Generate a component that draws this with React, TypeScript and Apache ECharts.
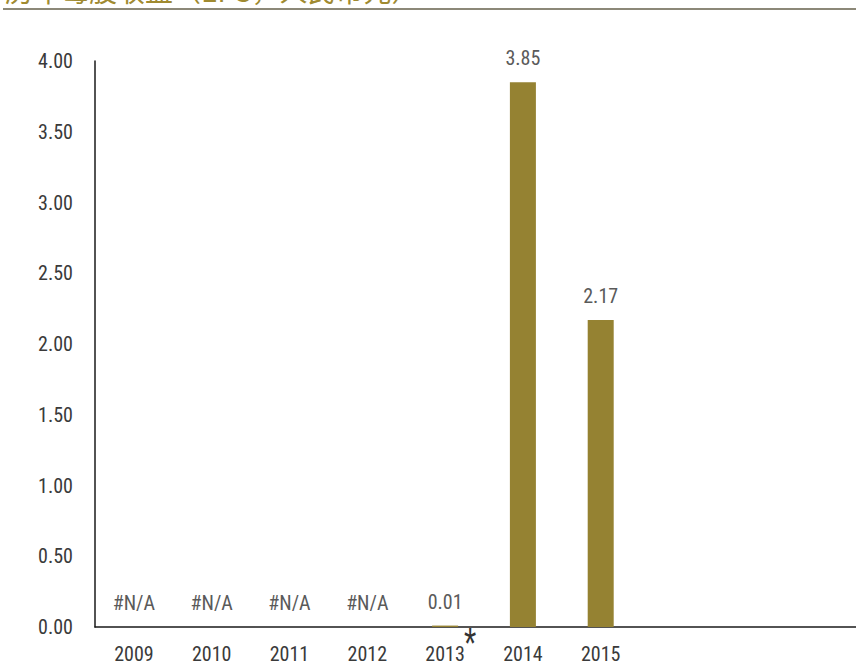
import React, { useEffect, useRef } from "react";
import * as echarts from "echarts";

const categories = ["2009", "2010", "2011", "2012", "2013", "2014", "2015", "", "", ""];
const values: (number | null)[] = [null, null, null, null, 0.01, 3.85, 2.17, null, null, null];
const naLabels: boolean[] = [true, true, true, true, false, false, false, false, false, false];
const yTicks = { min: 0, max: 4, interval: 0.5 };
const titleText = "历年每股收益（EPS，人民币元）";
const footnoteCategory = "2013";

const FONT = '"Roboto Condensed", "Liberation Sans Narrow", sans-serif';

export default function App() {
  const ref = useRef<HTMLDivElement>(null);
  useEffect(() => {
    if (!ref.current) return;
    const chart = echarts.init(ref.current, null, { renderer: "svg" });
    const data = values.map((v, i) => {
      if (naLabels[i]) {
        return { value: 0, label: { show: true, formatter: "#N/A" } };
      }
      if (v === null) return { value: null, label: { show: false } };
      return { value: v };
    });
    chart.setOption({
      animation: false,
      backgroundColor: "#ffffff",
      grid: { left: 95, top: 61, bottom: 38, right: 0, containLabel: false },
      xAxis: {
        type: "category",
        data: categories,
        axisLine: { show: true, lineStyle: { color: "#1a1a1a", width: 1.5 } },
        axisTick: { show: false },
        axisLabel: {
          color: "#3a3a3a",
          fontFamily: FONT,
          fontSize: 20,
          margin: 17,
          interval: 0,
        },
        splitLine: { show: false },
      },
      yAxis: {
        type: "value",
        min: yTicks.min,
        max: yTicks.max,
        interval: yTicks.interval,
        axisLine: { show: true, lineStyle: { color: "#1a1a1a", width: 1.5 } },
        axisTick: { show: false },
        splitLine: { show: false },
        axisLabel: {
          color: "#3a3a3a",
          fontFamily: FONT,
          fontSize: 20,
          margin: 22,
          formatter: (v: number) => v.toFixed(2),
        },
      },
      series: [
        {
          type: "bar",
          data,
          barWidth: 26,
          itemStyle: { color: "#958232" },
          label: {
            show: true,
            position: "top",
            distance: 14,
            color: "#5a5a5a",
            fontFamily: FONT,
            fontSize: 20,
            formatter: (p: any) => (p.value === null || p.value === undefined ? "" : Number(p.value).toFixed(2)),
          },
        },
      ],
      graphic: [
        {
          type: "text",
          x: 5,
          y: 4,
          style: {
            text: titleText,
            fill: "#a08a30",
            fontSize: 28,
            fontFamily: '"Noto Sans CJK SC", sans-serif',
            verticalAlign: "bottom",
          },
        },
        {
          type: "rect",
          shape: { x: 3, y: 8, width: 880, height: 2 },
          style: { fill: "#8c8878" },
        },
      ],
    });
    const px = chart.convertToPixel({ xAxisIndex: 0 }, footnoteCategory) as number;
    const py = chart.convertToPixel({ yAxisIndex: 0 }, 0) as number;
    chart.setOption({
      graphic: [
        {},
        {},
        {
          type: "text",
          x: px + 19,
          y: py - 5,
          scaleX: 1.05,
          scaleY: 1.45,
          style: {
            text: "*",
            fill: "#333333",
            fontSize: 30,
            fontFamily: '"Liberation Sans", sans-serif',
            verticalAlign: "top",
          },
        },
      ],
    });
    return () => chart.dispose();
  }, []);
  return (
    <div
      style={{ position: "absolute", left: 0, top: 0, width: 856, height: 665, overflow: "hidden" }}
    >
      <div ref={ref} style={{ width: 873, height: 665 }} />
    </div>
  );
}
